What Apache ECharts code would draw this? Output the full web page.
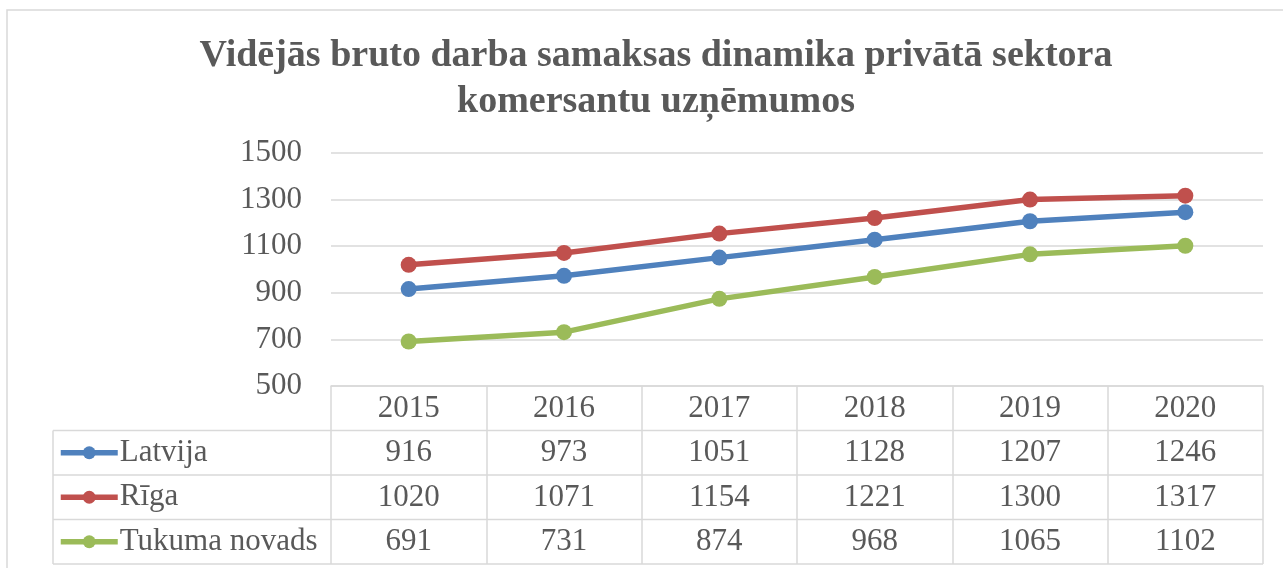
<!DOCTYPE html>
<html>
<head>
<meta charset="utf-8">
<script src="https://cdn.jsdelivr.net/npm/echarts@6/dist/echarts.min.js"></script>
<style>
  html, body { margin: 0; padding: 0; background: #fff; }
  #chart { width: 1283px; height: 568px; }
</style>
</head>
<body>
<div id="chart"></div>
<script>
// dati
const years = ['2015', '2016', '2017', '2018', '2019', '2020'];
const latvija = [916, 973, 1051, 1128, 1207, 1246];
const riga = [1020, 1071, 1154, 1221, 1300, 1317];
const tukums = [691, 731, 874, 968, 1065, 1102];
const seriesNames = ['Latvija', 'Rīga', 'Tukuma novads'];
const seriesColors = ['#4f81bd', '#c0504d', '#9bbb59'];
const yTicks = { min: 500, max: 1500, step: 200 };

const rows = [latvija, riga, tukums];

// izkārtojums
const W = 1283, H = 568;
const gridLeft = 331, gridRight = 1263, gridTop = 153, gridBottom = 386;
const rowH = 44.5;
const legendLeft = 53;
const font = "'Liberation Serif', 'Times New Roman', serif";
const txt = '#595959';
const border = '#d9d9d9';

const chart = echarts.init(document.getElementById('chart'));

const xAxes = [{
    type: 'category',
    data: years,
    position: 'bottom',
    boundaryGap: true,
    axisLine: { lineStyle: { color: border, width: 1.5 } },
    axisTick: { show: true, length: rowH * 4, lineStyle: { color: border, width: 1.5 } },
    axisLabel: { color: txt, fontFamily: font, fontSize: 31, margin: 7 }
}];
rows.forEach(function (vals, i) {
    xAxes.push({
        type: 'category',
        data: vals.map(String),
        position: 'bottom',
        offset: rowH * (i + 1),
        boundaryGap: true,
        axisLine: { show: false },
        axisTick: { show: false },
        splitLine: { show: false },
        axisLabel: { color: txt, fontFamily: font, fontSize: 31, margin: 7 }
    });
});

// leģenda katrā tabulas rindā
const legends = seriesNames.map(function (name, i) {
    return {
        orient: 'horizontal',
        left: 58,
        top: gridBottom + rowH * (i + 1),
        padding: 0,
        itemWidth: 57,
        itemHeight: 16,
        itemGap: 0,
        data: [name],
        lineStyle: { width: 5.5 },
        textStyle: { color: txt, fontFamily: font, fontSize: 31, lineHeight: rowH, padding: [0, 0, 0, -3] }
    };
});

// tabulas līnijas
const lines = [];
for (let k = 1; k <= 4; k++) {
    const y = gridBottom + rowH * k;
    lines.push({
        type: 'line',
        shape: { x1: legendLeft, y1: y, x2: gridRight, y2: y },
        style: { stroke: border, lineWidth: 1.5 },
        silent: true
    });
}
lines.push({
    type: 'line',
    shape: { x1: legendLeft, y1: gridBottom + rowH, x2: legendLeft, y2: gridBottom + rowH * 4 },
    style: { stroke: border, lineWidth: 1.5 },
    silent: true
});
lines.push({
    type: 'rect',
    shape: { x: 7, y: 10, width: W + 20, height: H + 20 },
    style: { fill: null, stroke: border, lineWidth: 1.5 },
    silent: true,
    z: -1
});

const option = {
    backgroundColor: '#fff',
    animation: false,
    title: {
        text: 'Vidējās bruto darba samaksas dinamika privātā sektora\nkomersantu uzņēmumos',
        left: 651,
        top: 28,
        textAlign: 'center',
        textStyle: { color: txt, fontFamily: font, fontSize: 38, fontWeight: 'bold', lineHeight: 46 }
    },
    grid: {
        left: gridLeft,
        right: W - gridRight,
        top: gridTop,
        bottom: H - gridBottom,
        containLabel: false,
        outerBoundsMode: 'none'
    },
    legend: legends,
    xAxis: xAxes,
    yAxis: {
        type: 'value',
        min: yTicks.min,
        max: yTicks.max,
        interval: yTicks.step,
        axisLine: { show: false },
        axisTick: { show: false },
        axisLabel: {
            color: txt, fontFamily: font, fontSize: 31, margin: 29,
            formatter: function (v) { return String(v); }
        },
        splitLine: { lineStyle: { color: border, width: 1.5 } }
    },
    graphic: lines,
    series: rows.map(function (vals, i) {
        return {
            name: seriesNames[i],
            type: 'line',
            xAxisIndex: 0,
            data: vals,
            symbol: 'circle',
            symbolSize: 16,
            color: seriesColors[i],
            lineStyle: { width: 5.5, color: seriesColors[i] },
            itemStyle: { color: seriesColors[i] }
        };
    })
};

chart.setOption(option);
</script>
</body>
</html>
